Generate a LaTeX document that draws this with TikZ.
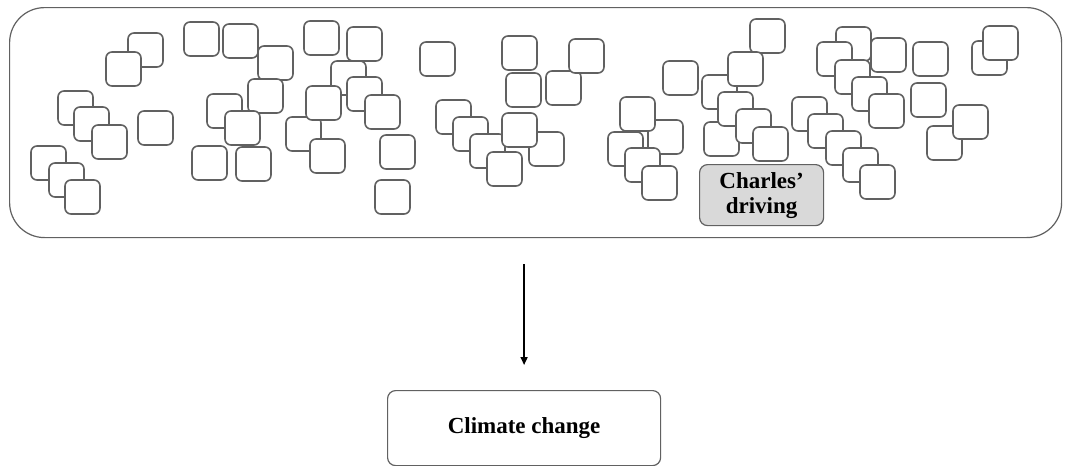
\documentclass[tikz,border=0pt]{standalone}
\usepackage{fontspec}
\setmainfont{Liberation Serif}
\usetikzlibrary{arrows.meta,calc}
\definecolor{edgegray}{HTML}{616161}
\definecolor{fillgray}{HTML}{D9D9D9}
\begin{document}
\begin{tikzpicture}[x=1pt,y=-1pt,
  sbox/.style={draw=edgegray,fill=white,line width=1.6pt,rounded corners=6pt,
    minimum width=35pt,minimum height=34pt,anchor=north west,inner sep=0pt,outer sep=0pt},
  bigbox/.style={draw=edgegray,line width=1.2pt,rounded corners=35pt,inner sep=0pt},
  labelbox/.style={draw=edgegray,line width=1.2pt,rounded corners=8pt,font=\bfseries,align=center,inner sep=0pt}]
\path[use as bounding box,fill=white] (0,0) rectangle (1066,466);
% container
\node[bigbox,minimum width=1052pt,minimum height=230pt,anchor=north west] (container) at (9,7) {};
% cluster 1
\node[sbox] (bA) at (128,33) {};
\node[sbox] (bB) at (106,52) {};
\node[sbox] (bC) at (58,91) {};
\node[sbox] (bD) at (74,107) {};
\node[sbox] (bE) at (92,125) {};
\node[sbox] (bF) at (138,111) {};
\node[sbox] (bG) at (31,146) {};
\node[sbox] (bH) at (49,163) {};
\node[sbox] (bI) at (65,180) {};
% cluster 2
\node[sbox] (bJ) at (184,22) {};
\node[sbox] (bK) at (223,24) {};
\node[sbox] (bL) at (258,46) {};
\node[sbox] (bN) at (207,94) {};
\node[sbox] (bM) at (248,79) {};
\node[sbox] (bO) at (225,111) {};
\node[sbox] (bP) at (192,146) {};
\node[sbox] (bQ) at (236,147) {};
% cluster 3
\node[sbox] (bU) at (331,61) {};
\node[sbox] (bY) at (286,117) {};
\node[sbox] (bV) at (347,77) {};
\node[sbox] (bW) at (306,86) {};
\node[sbox] (bX) at (365,95) {};
\node[sbox] (bZ) at (310,139) {};
\node[sbox] (bS) at (304,21) {};
\node[sbox] (bT) at (347,27) {};
\node[sbox] (bAA) at (380,135) {};
\node[sbox] (bAB) at (375,180) {};
\node[sbox] (bAC) at (420,42) {};
% cluster 4
\node[sbox] (bAD) at (502,36) {};
\node[sbox] (bAG) at (546,71) {};
\node[sbox] (bAE) at (569,39) {};
\node[sbox] (bAF) at (506,73) {};
\node[sbox] (bAH) at (436,100) {};
\node[sbox] (bAI) at (453,117) {};
\node[sbox] (bAJ) at (470,134) {};
\node[sbox] (bAL) at (529,132) {};
\node[sbox] (bAK) at (502,113) {};
\node[sbox] (bAM) at (487,152) {};
% cluster 5
\node[sbox] (bCB) at (648,120) {};
\node[sbox] (bCA) at (620,97) {};
\node[sbox] (bCC) at (608,132) {};
\node[sbox] (bCD) at (625,148) {};
\node[sbox] (bCE) at (642,166) {};
\node[sbox] (bBD) at (663,61) {};
\node[sbox] (bBC) at (702,75) {};
\node[sbox] (bBG) at (704,122) {};
\node[sbox] (bBA) at (750,19) {};
\node[sbox] (bBB) at (728,52) {};
\node[sbox] (bBE) at (718,92) {};
\node[sbox] (bBF) at (736,109) {};
\node[sbox] (bBH) at (753,127) {};
% cluster 6
\node[sbox] (bDA) at (792,97) {};
\node[sbox] (bDB) at (808,114) {};
\node[sbox] (bDC) at (826,131) {};
\node[sbox] (bDD) at (843,148) {};
\node[sbox] (bDE) at (860,165) {};
\node[sbox] (bEA) at (836,27) {};
\node[sbox] (bEC) at (871,38) {};
\node[sbox] (bEB) at (817,42) {};
\node[sbox] (bED) at (835,60) {};
\node[sbox] (bEE) at (852,77) {};
\node[sbox] (bEF) at (869,94) {};
\node[sbox] (bEG) at (913,42) {};
\node[sbox] (bEH) at (911,83) {};
\node[sbox] (bEI) at (972,41) {};
\node[sbox] (bEJ) at (983,26) {};
\node[sbox] (bEK) at (927,126) {};
\node[sbox] (bEL) at (953,105) {};
% Charles' driving
\node[labelbox,fill=fillgray,minimum width=124pt,minimum height=61pt,anchor=north west,
  font=\bfseries\fontsize{23}{25}\selectfont] (charles) at (699,164) {Charles’\\driving};
% Climate change
\node[labelbox,fill=white,minimum width=273pt,minimum height=75pt,anchor=north west,
  font=\bfseries\fontsize{23}{26}\selectfont] (climate) at (387,390) {Climate change};
% arrow
\draw[line width=1.5pt,-{Triangle[length=8pt,width=7pt]},shorten <=26pt,shorten >=25pt]
  (container.south -| climate.north) -- (climate.north);
\end{tikzpicture}
\end{document}
